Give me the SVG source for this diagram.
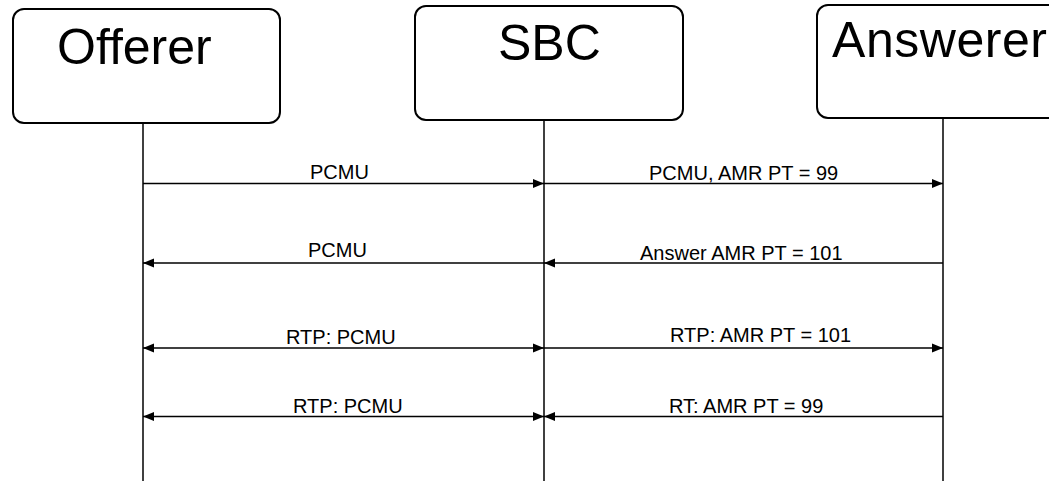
<svg xmlns="http://www.w3.org/2000/svg" width="1049" height="481" viewBox="0 0 1049 481">
<style>
.box{fill:#fff;stroke:#000;stroke-width:2}
.life{stroke:#000;stroke-width:1.5;fill:none}
.msg{stroke:#000;stroke-width:1.7;fill:none}
.big{font-family:"Liberation Sans",Arial,sans-serif;font-size:50px;fill:#000}
.lbl{font-family:"Liberation Sans",Arial,sans-serif;font-size:20px;fill:#000}
</style>
<defs>
<marker id="end" viewBox="0 0 11 11" refX="11" refY="5.5" markerWidth="11" markerHeight="11" markerUnits="userSpaceOnUse" orient="auto">
<path d="M0,1 L11,5.5 L0,10 Z" fill="#000"/>
</marker>
<marker id="start" viewBox="0 0 11 11" refX="0" refY="5.5" markerWidth="11" markerHeight="11" markerUnits="userSpaceOnUse" orient="auto">
<path d="M11,1 L0,5.5 L11,10 Z" fill="#000"/>
</marker>
</defs>
<rect width="1049" height="481" fill="#fff"/>
<g id="offerer">
<rect class="box" x="13" y="9" width="267" height="114" rx="11"/>
<text class="big" x="57" y="64">Offerer</text>
<line class="life" x1="143" y1="123" x2="143" y2="481"/>
</g>
<g id="sbc">
<rect class="box" x="415" y="6" width="268" height="114" rx="11"/>
<text class="big" x="498" y="60">SBC</text>
<line class="life" x1="544" y1="120" x2="544" y2="481"/>
</g>
<g id="answerer">
<rect class="box" x="817" y="5" width="270" height="113" rx="11"/>
<text class="big" x="832" y="57" textLength="215">Answerer</text>
<line class="life" x1="943" y1="118" x2="943" y2="481"/>
</g>
<g id="connectors">
<line class="msg" x1="143" y1="183.5" x2="544" y2="183.5" marker-end="url(#end)"/>
<line class="msg" x1="544" y1="183.5" x2="943" y2="183.5" marker-end="url(#end)"/>
<line class="msg" x1="544" y1="263" x2="143" y2="263" marker-end="url(#end)"/>
<line class="msg" x1="943" y1="263" x2="544" y2="263" marker-end="url(#end)"/>
<line class="msg" x1="143" y1="348" x2="544" y2="348" marker-start="url(#start)" marker-end="url(#end)"/>
<line class="msg" x1="544" y1="348" x2="943" y2="348" marker-end="url(#end)"/>
<line class="msg" x1="143" y1="416.5" x2="544" y2="416.5" marker-start="url(#start)" marker-end="url(#end)"/>
<line class="msg" x1="943" y1="416.5" x2="544" y2="416.5" marker-end="url(#end)"/>
</g>
<g id="labels">
<text class="lbl" x="310" y="179">PCMU</text>
<text class="lbl" x="649" y="180">PCMU, AMR PT = 99</text>
<text class="lbl" x="308" y="257">PCMU</text>
<text class="lbl" x="640" y="260">Answer AMR PT = 101</text>
<text class="lbl" x="286" y="344">RTP: PCMU</text>
<text class="lbl" x="670" y="342">RTP: AMR PT = 101</text>
<text class="lbl" x="293" y="413">RTP: PCMU</text>
<text class="lbl" x="669" y="413">RT: AMR PT = 99</text>
</g>
</svg>
